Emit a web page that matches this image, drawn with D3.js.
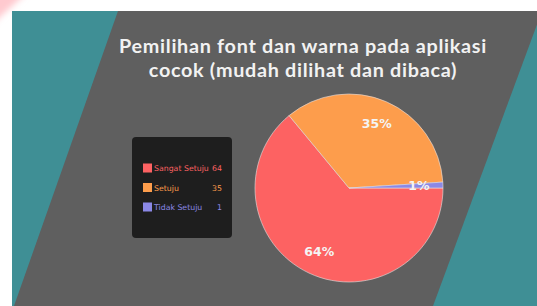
<!DOCTYPE html>
<html>
<head>
<meta charset="utf-8">
<script src="https://cdn.jsdelivr.net/npm/d3@7"></script>
<style>
  body { margin: 0; background: #ffffff; overflow: hidden; }
  svg { display: block; }
</style>
</head>
<body>
<script>
var width = 537;
var height = 306;

// chart data
var categories = ["Sangat Setuju", "Setuju", "Tidak Setuju"];
var values = [64, 35, 1];
var colors = ["#fd6262", "#fd9d4c", "#8b88e6"];
var titleLines = ["Pemilihan font dan warna pada aplikasi", "cocok (mudah dilihat dan dibaca)"];

var svg = d3.select("body")
    .append("svg")
    .attr("width", width)
    .attr("height", height);

// pink corner in the top left
var defs = svg.append("defs");
defs.append("filter").attr("id", "blur")
    .append("feGaussianBlur").attr("stdDeviation", 3);
svg.append("path")
    .attr("d", "M-10,-10 L30,-10 L-10,26 Z")
    .style("fill", "#ffc9cf")
    .attr("filter", "url(#blur)");

// teal slide background
svg.append("rect")
    .attr("x", 12).attr("y", 11)
    .attr("width", width - 12).attr("height", height - 11)
    .style("fill", "#3f8f95");

// gray slanted panel
svg.append("path")
    .attr("d", "M118,11 L542,11 L433,306 L14,306 Z")
    .style("fill", "#5f5f5f");

// title, one text per line
svg.selectAll("text.title")
    .data(titleLines)
    .enter().append("text")
    .attr("class", "title")
    .attr("x", 303)
    .attr("y", function(d, i) { return 53 + i * 24; })
    .attr("text-anchor", "middle")
    .style("font-family", "Lato, sans-serif")
    .style("font-weight", "bold")
    .style("font-size", "19.8px")
    .style("letter-spacing", "0.7px")
    .style("fill", "#f2f2f2")
    .text(function(d) { return d; });

// legend box
var legend = svg.append("g").attr("transform", "translate(132,137)");
legend.append("rect")
    .attr("width", 100).attr("height", 101)
    .attr("rx", 4)
    .style("fill", "#1e1e1e");

var rowY = d3.scalePoint().domain(categories).range([31, 70]);

var rows = legend.selectAll("g.row")
    .data(categories)
    .enter().append("g")
    .attr("class", "row")
    .attr("transform", function(d) { return "translate(0," + rowY(d) + ")"; });

rows.append("rect")
    .attr("x", 11).attr("y", -4.5)
    .attr("width", 9).attr("height", 9)
    .style("fill", function(d, i) { return colors[i]; });

rows.append("text")
    .attr("x", 22).attr("y", 3)
    .style("font-family", "'DejaVu Sans', sans-serif")
    .style("font-size", "7.8px")
    .style("fill", function(d, i) { return colors[i]; })
    .text(function(d) { return d; });

rows.append("text")
    .attr("x", 90).attr("y", 3)
    .attr("text-anchor", "end")
    .style("font-family", "'DejaVu Sans', sans-serif")
    .style("font-size", "7.8px")
    .style("fill", function(d, i) { return colors[i]; })
    .text(function(d, i) { return values[i]; });

// pie
var radius = 94;
var pie = d3.pie()
    .sort(null)
    .startAngle(Math.PI / 2)
    .endAngle(Math.PI / 2 + 2 * Math.PI)
    .value(function(d) { return d; });

var arc = d3.arc().innerRadius(0).outerRadius(radius);
var labelArc = d3.arc().innerRadius(70).outerRadius(70);

var total = d3.sum(values);
var pieG = svg.append("g").attr("transform", "translate(349,188)");

pieG.selectAll("path")
    .data(pie(values))
    .enter().append("path")
    .attr("d", arc)
    .style("fill", function(d, i) { return colors[i]; })
    .style("stroke", "#e8e0e0")
    .style("stroke-width", 0.6);

pieG.selectAll("text")
    .data(pie(values))
    .enter().append("text")
    .attr("transform", function(d) { return "translate(" + labelArc.centroid(d) + ")"; })
    .attr("text-anchor", "middle")
    .attr("dy", "0.35em")
    .style("font-family", "'DejaVu Sans', sans-serif")
    .style("font-weight", "bold")
    .style("font-size", "12.5px")
    .style("fill", "#f4f4f4")
    .text(function(d) { return Math.round(d.value / total * 100) + "%"; });
</script>
</body>
</html>
